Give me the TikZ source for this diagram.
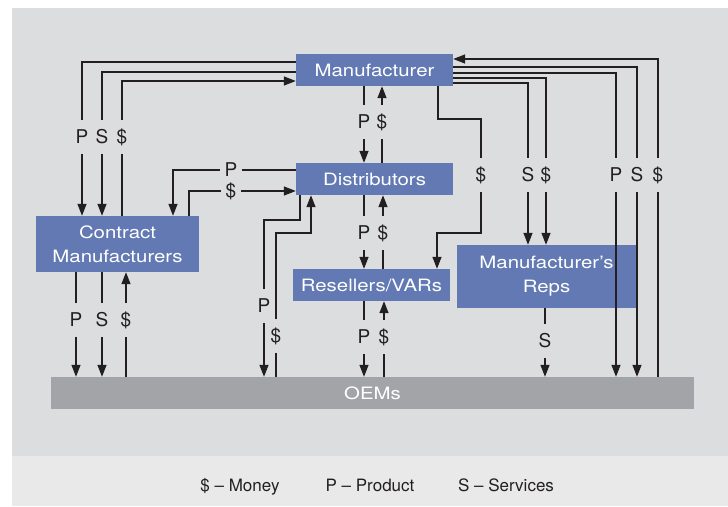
\documentclass[tikz,border=0pt]{standalone}
\usepackage{fontspec}
\setmainfont{TeX Gyre Heros}
\newfontfamily\boxfont{TeX Gyre Heros}[FakeStretch=1.2]
\usetikzlibrary{arrows.meta}
\definecolor{bgA}{HTML}{DCDDDF}
\definecolor{bgB}{HTML}{E9E9EA}
\definecolor{boxblue}{HTML}{6279B3}
\definecolor{oemgray}{HTML}{A3A4A7}
\definecolor{ink}{HTML}{231F20}
\begin{document}
\begin{tikzpicture}[x=1pt,y=-1pt,
  entity/.style={draw=none, fill=boxblue, text=white, inner sep=0pt, align=center,
    font=\boxfont\fontsize{17}{24}\selectfont},
  flow/.style={draw=ink, line width=1.4pt},
  arr/.style={flow, -{Triangle[length=12pt,width=9pt]}},
  lab/.style={fill=bgA, text=ink, inner xsep=1.5pt, inner ysep=10pt,
    text height=14pt, text depth=0.5pt, font=\fontsize{19}{19}\selectfont},
  hlab/.style={lab, inner xsep=5pt, inner ysep=0.5pt},
  legend/.style={text=ink, inner sep=0pt, anchor=base, font=\fontsize{17}{17}\selectfont},
]
\useasboundingbox (0,0) rectangle (728,506);
\fill[white] (0,0) rectangle (728,506);
\fill[bgA] (12,8) rectangle (728,456);
\fill[bgB] (12,456) rectangle (728,506);

% entities
\node[entity, minimum width=157pt, minimum height=32pt] (man) at (374.5,70) {Manufacturer};
\node[entity, minimum width=157pt, minimum height=32pt] (dist) at (374.5,179) {Distributors};
\node[entity, minimum width=163pt, minimum height=56pt] (cm) at (117.5,244) {Contract\\Manufacturers};
\node[entity, minimum width=157pt, minimum height=32pt] (res) at (371.5,285) {Resellers/VARs};
\node[entity, minimum width=179pt, minimum height=63pt] (reps) at (546.5,276.5) {Manufacturer’s\\Reps};
\node[entity, fill=oemgray, minimum width=643pt, minimum height=32pt] (oem) at (372.5,393) {OEMs};

% Manufacturer <-> Contract Manufacturers
\draw[arr] (man.west|-0,62) -| (cm.north-|82,0);
\draw[arr] (man.west|-0,72) -| (cm.north-|102,0);
\draw[arr] (cm.north-|122,0) |- (man.west|-0,81);
\node[lab] (l1) at (82,137) {P};
\node[lab] (l2) at (102,137) {S};
\node[lab] (l3) at (122,137) {\$};

% Distributors <-> Contract Manufacturers
\draw[arr] (dist.west|-0,170) -| (cm.north-|173,0);
\draw[arr] (cm.north-|189,0) |- (dist.west|-0,191);
\node[hlab] (l4) at (231,170) {P};
\node[hlab] (l5) at (231,191) {\$};

% Manufacturer <-> Distributors
\draw[arr] (man.south-|364,0) -- (dist.north-|364,0);
\draw[arr] (dist.north-|382,0) -- (man.south-|382,0);
\node[lab] (l6) at (364,122) {P};
\node[lab] (l7) at (382,122) {\$};

% Distributors <-> Resellers
\draw[arr] (dist.south-|364,0) -- (res.north-|364,0);
\draw[arr] (res.north-|383,0) -- (dist.south-|383,0);
\node[lab] (l8) at (364,233) {P};
\node[lab] (l9) at (383,233) {\$};

% Resellers <-> OEMs
\draw[arr] (res.south-|364,0) -- (oem.north-|364,0);
\draw[arr] (oem.north-|384,0) -- (res.south-|384,0);
\node[lab] (l10) at (364,337) {P};
\node[lab] (l11) at (384,337) {\$};

% Manufacturer -> Resellers ($)
\coordinate (b1) at (481,119);
\coordinate (b2) at (481,233);
\draw[arr] (man.south-|438,0) |- (b1) -- (b2) -| (res.north-|437,0);
\node[lab] (l12) at (481,175) {\$};

% Manufacturer -> Reps
\draw[arr] (man.east|-0,83) -| (reps.north-|528,0);
\draw[arr] (man.east|-0,78) -| (reps.north-|546,0);
\node[lab] (l13) at (528,175) {S};
\node[lab] (l14) at (546,175) {\$};

% Manufacturer <-> OEMs
\draw[arr] (man.east|-0,73) -| (oem.north-|616,0);
\draw[arr] (man.east|-0,67) -| (oem.north-|637,0);
\draw[arr] (oem.north-|658,0) |- (man.east|-0,59);
\node[lab] (l15) at (616,175) {P};
\node[lab] (l16) at (637,175) {S};
\node[lab] (l17) at (658,175) {\$};

% Reps -> OEMs
\draw[arr] (reps.south-|545,0) -- (oem.north-|545,0);
\node[lab] (l18) at (545,341) {S};

% Contract Manufacturers <-> OEMs
\draw[arr] (cm.south-|76,0) -- (oem.north-|76,0);
\draw[arr] (cm.south-|102,0) -- (oem.north-|102,0);
\draw[arr] (oem.north-|126,0) -- (cm.south-|126,0);
\node[lab] (l19) at (76,320) {P};
\node[lab] (l20) at (102,320) {S};
\node[lab] (l21) at (126,320) {\$};

% Distributors <-> OEMs
\coordinate (b3) at (264,220);
\coordinate (b4) at (311,233);
\draw[arr] (dist.south-|300,0) |- (b3) -- (oem.north-|264,0);
\draw[arr] (oem.north-|276,0) |- (b4) -- (dist.south-|311,0);
\node[lab] (l22) at (264,306) {P};
\node[lab] (l23) at (276,336) {\$};

% legend
\node[legend] (lg1) at (240,491) {\$ – Money};
\node[legend] (lg2) at (370,491) {P – Product};
\node[legend] (lg3) at (506,491) {S – Services};
\end{tikzpicture}
\end{document}
